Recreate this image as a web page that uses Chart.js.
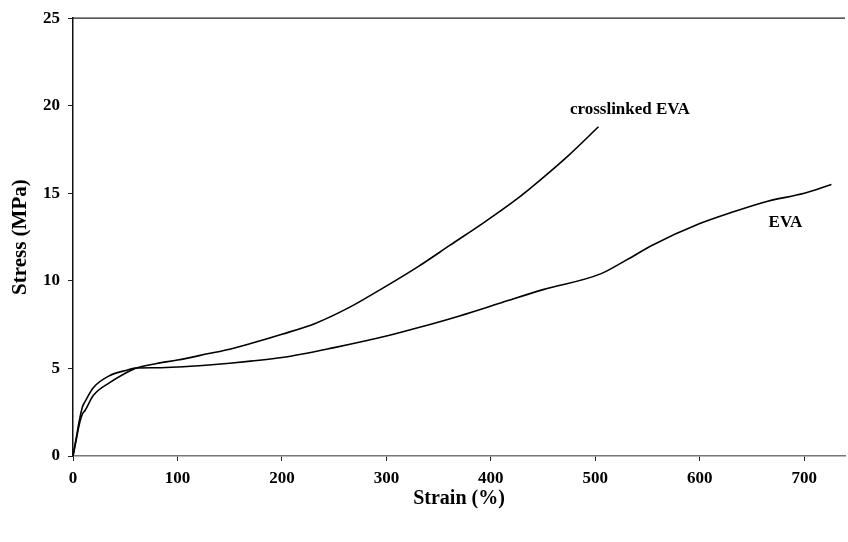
<!DOCTYPE html>
<html>
<head>
<meta charset="utf-8">
<script src="https://cdn.jsdelivr.net/npm/chart.js@4/dist/chart.umd.min.js"></script>
<style>
  html, body { margin: 0; padding: 0; background: #fff; }
  canvas { display: block; }
</style>
</head>
<body>
<canvas id="stressChart" width="848" height="542"></canvas>
<script>
// strain (%) / stress (MPa)
const evaStrain = [0, 3, 6, 9, 11.5, 19.4, 35.4, 51.4, 59.4, 80, 100, 130, 150, 170, 200, 250, 300, 330, 370, 410, 450, 505, 530, 555, 600, 630, 665, 700, 726];
const evaStress = [0, 1.0, 2.0, 2.8, 3.1, 3.9, 4.6, 4.9, 5.02, 5.04, 5.08, 5.2, 5.3, 5.42, 5.62, 6.19, 6.85, 7.32, 8.0, 8.75, 9.5, 10.4, 11.2, 12.05, 13.27, 13.9, 14.55, 15.0, 15.5];

const xlStrain = [0, 3, 6, 9, 11.5, 19.4, 35.4, 51.4, 59.4, 80, 100, 130, 150, 170, 200, 233, 265, 297, 330, 361, 395, 425, 450, 475, 503];
const xlStress = [0, 0.9, 1.8, 2.4, 2.6, 3.45, 4.2, 4.77, 5.0, 5.28, 5.48, 5.85, 6.1, 6.42, 6.95, 7.6, 8.5, 9.6, 10.8, 12.04, 13.4, 14.68, 15.9, 17.2, 18.8];

const xTicks = [0, 100, 200, 300, 400, 500, 600, 700];
const yTicks = [0, 5, 10, 15, 20, 25];

// curve captions, anchored in data units
const captions = [
    { text: 'crosslinked EVA', x: 533, y: 19.8 },
    { text: 'EVA', x: 682, y: 13.3 },
];

const serif = '"Liberation Serif", "Times New Roman", serif';

function toPoints(xs, ys) {
    return xs.map((x, i) => ({ x: x, y: ys[i] }));
}

// top frame line + captions
const decorPlugin = {
    id: 'decor',
    afterDatasetsDraw(chart) {
        const { ctx, chartArea, scales } = chart;
        ctx.save();
        ctx.strokeStyle = '#222';
        ctx.lineWidth = 1.2;
        ctx.beginPath();
        ctx.moveTo(chartArea.left, chartArea.top);
        ctx.lineTo(chartArea.right, chartArea.top);
        ctx.stroke();

        ctx.fillStyle = '#000';
        ctx.font = 'bold 17px ' + serif;
        ctx.textAlign = 'center';
        ctx.textBaseline = 'middle';
        captions.forEach(c => {
            ctx.fillText(c.text, scales.x.getPixelForValue(c.x), scales.y.getPixelForValue(c.y));
        });
        ctx.restore();
    }
};

new Chart(document.getElementById('stressChart').getContext('2d'), {
    type: 'line',
    data: {
        datasets: [
            {
                label: 'EVA',
                data: toPoints(evaStrain, evaStress),
                borderColor: '#000',
                borderWidth: 1.6,
                pointRadius: 0,
                cubicInterpolationMode: 'monotone',
                fill: false,
            },
            {
                label: 'crosslinked EVA',
                data: toPoints(xlStrain, xlStress),
                borderColor: '#000',
                borderWidth: 1.6,
                pointRadius: 0,
                cubicInterpolationMode: 'monotone',
                fill: false,
            }
        ]
    },
    options: {
        responsive: false,
        animation: false,
        layout: { padding: { top: 14, right: 3, left: 0, bottom: 0 } },
        plugins: {
            legend: { display: false },
            tooltip: { enabled: false },
        },
        scales: {
            x: {
                type: 'linear',
                min: 0,
                max: 739,
                afterBuildTicks: s => { s.ticks = xTicks.map(v => ({ value: v })); },
                afterFit: s => { s.height = 86; },
                border: { color: '#777', width: 1.5 },
                grid: { drawOnChartArea: false, tickLength: 5, color: '#222' },
                ticks: {
                    color: '#000',
                    padding: 7,
                    maxRotation: 0,
                    font: { family: serif, size: 17, weight: 'bold' },
                },
                title: {
                    display: true,
                    text: 'Strain (%)',
                    color: '#000',
                    font: { family: serif, size: 20, weight: 'bold' },
                    padding: { top: 0, bottom: 31 },
                }
            },
            y: {
                min: 0,
                max: 25,
                afterBuildTicks: s => { s.ticks = yTicks.map(v => ({ value: v })); },
                afterFit: s => { s.width = 73; },
                border: { color: '#111', width: 1.5 },
                grid: { drawOnChartArea: false, tickLength: 5, color: '#222' },
                ticks: {
                    color: '#000',
                    padding: 8,
                    font: { family: serif, size: 17, weight: 'bold' },
                },
                title: {
                    display: true,
                    text: 'Stress (MPa)',
                    color: '#000',
                    font: { family: serif, size: 21, weight: 'bold' },
                    padding: { top: 8, bottom: 0 },
                }
            }
        }
    },
    plugins: [decorPlugin]
});
</script>
</body>
</html>
